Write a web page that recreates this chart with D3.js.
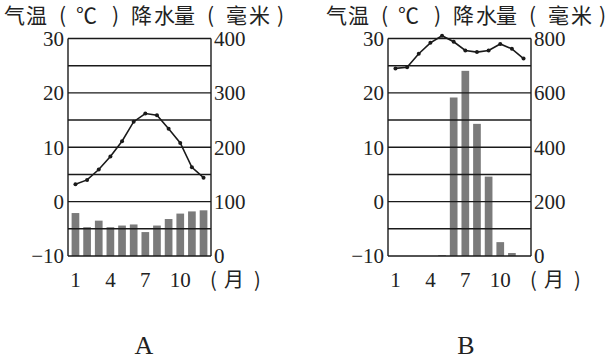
<!DOCTYPE html>
<html><head><meta charset="utf-8">
<script src="https://cdn.jsdelivr.net/npm/d3@7"></script>
<style>body{margin:0;background:#fff}</style>
</head><body>
<svg id="c" width="607" height="360"></svg>
<script>
const months = [1,2,3,4,5,6,7,8,9,10,11,12];
const monthTicks = [1,4,7,10];
const tempTicks = [30,20,10,0,-10];
const gridTemps = [30,25,20,15,10,5,0,-5,-10];
const precipTicksA = [400,300,200,100,0];
const precipTicksB = [800,600,400,200,0];
const tempA = [3.2,4.0,5.9,8.3,11.1,14.7,16.2,15.9,13.4,10.8,6.3,4.4];
const precipA = [79,53,65,53,56,58,44,56,68,78,82,84];
const tempB = [24.5,24.7,27.2,29.2,30.5,29.4,27.8,27.5,27.8,29.0,28.1,26.3];
const precipB = [0,0,0,0,3,583,681,486,292,51,11,0];
const titleChars = ["气","温","(","℃",")","降","水","量","(","毫","米",")"];
const titleOffsets = [0,22,55,72,108,127,150,170,203,222,245,273];
const monthUnit = ["(","月",")"];
const monthUnitOffsets = [-1,13,43];
const panelLabels = ["A","B"];

const svg = d3.select("#c");
const ink = "#1a1a1a";
const barColor = "#7b7b7b";

const panels = [
  {left:68, right:211, temp:tempA, precip:precipA, pMax:400, pTicks:precipTicksA, titleX:4, label:panelLabels[0], labelX:144},
  {left:388, right:531, temp:tempB, precip:precipB, pMax:800, pTicks:precipTicksB, titleX:326, label:panelLabels[1], labelX:466}
];

panels.forEach(p => {
  const g = svg.append("g");
  const x = d3.scaleBand().domain(months).range([p.left, p.right]).paddingInner(0.34).paddingOuter(0.31);
  const y = d3.scaleLinear().domain([-10,30]).range([256, 38.5]);
  const yp = d3.scaleLinear().domain([0,p.pMax]).range([256, 38.5]);

  // title
  const t = g.append("text").attr("y", 23)
    .style("font-family","'Noto Sans CJK SC'").style("font-size","21px").attr("fill","#222");
  titleChars.forEach((ch,i) => t.append("tspan").attr("x", p.titleX + titleOffsets[i]).text(ch));

  // bars
  g.selectAll("rect.bar").data(p.precip).join("rect")
    .attr("x", (d,i) => x(months[i]))
    .attr("width", x.bandwidth())
    .attr("y", d => yp(d))
    .attr("height", d => yp(0) - yp(d))
    .attr("fill", barColor);

  // grid lines
  g.selectAll("line.grid").data(gridTemps).join("line")
    .attr("x1", p.left).attr("x2", p.right)
    .attr("y1", d => y(d)).attr("y2", d => y(d))
    .attr("stroke", ink).attr("stroke-width", 1.4);

  // frame verticals
  [p.left, p.right].forEach(xx => g.append("line")
    .attr("x1", xx).attr("x2", xx).attr("y1", y(30)).attr("y2", y(-10))
    .attr("stroke", ink).attr("stroke-width", 1.4));

  // left axis labels
  g.selectAll("text.lt").data(tempTicks).join("text")
    .attr("x", p.left - 4).attr("y", d => y(d)).attr("dy","0.35em")
    .attr("text-anchor","end")
    .style("font-family","'Liberation Serif'").style("font-size","21px").attr("fill","#222")
    .text(d => d < 0 ? "\u2212" + Math.abs(d) : d);

  // right axis labels
  g.selectAll("text.rt").data(p.pTicks).join("text")
    .attr("x", p.right + 3).attr("y", d => yp(d)).attr("dy","0.35em")
    .attr("text-anchor","start")
    .style("font-family","'Liberation Serif'").style("font-size","21px").attr("fill","#222")
    .text(d => d);

  // month labels
  g.selectAll("text.mt").data(monthTicks).join("text")
    .attr("x", d => x(d) + x.bandwidth()/2).attr("y", 287)
    .attr("text-anchor","middle")
    .style("font-family","'Liberation Serif'").style("font-size","21px").attr("fill","#222")
    .text(d => d);
  const mu = g.append("text").attr("y", 287)
    .style("font-family","'Noto Sans CJK SC'").style("font-size","20px").attr("fill","#222");
  monthUnit.forEach((ch,i) => mu.append("tspan").attr("x", p.right + monthUnitOffsets[i]).text(ch));

  // temperature line
  const line = d3.line().x((d,i) => x(months[i]) + x.bandwidth()/2).y(d => y(d));
  g.append("path").datum(p.temp).attr("d", line)
    .attr("fill","none").attr("stroke", ink).attr("stroke-width", 1.6);
  g.selectAll("circle.pt").data(p.temp).join("circle")
    .attr("cx", (d,i) => x(months[i]) + x.bandwidth()/2)
    .attr("cy", d => y(d)).attr("r", 2).attr("fill", ink);

  // panel label
  g.append("text").attr("x", p.labelX).attr("y", 354).attr("text-anchor","middle")
    .style("font-family","'Liberation Serif'").style("font-size","26px").attr("fill","#222")
    .text(p.label);
});
</script>
</body></html>
